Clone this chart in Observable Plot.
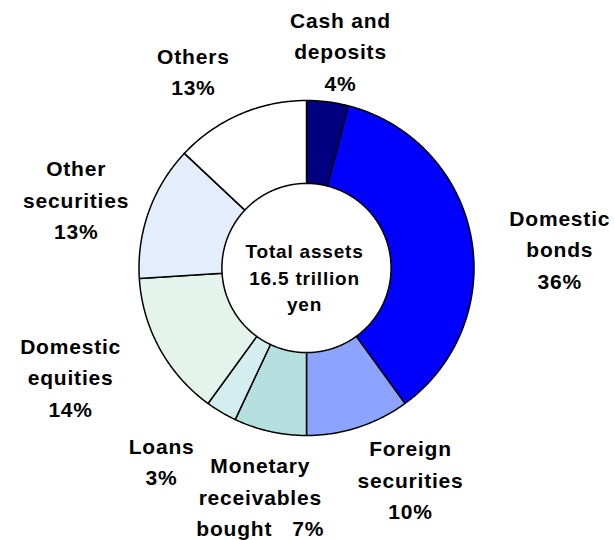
<!DOCTYPE html>
<html>
<head>
<meta charset="utf-8">
<script src="https://cdn.jsdelivr.net/npm/d3@7"></script>
<script src="https://cdn.jsdelivr.net/npm/@observablehq/plot@0.6"></script>
<style>
  body { margin: 0; background: #fff; }
  #chart svg text { letter-spacing: 0.8px; }
</style>
</head>
<body>
<div id="chart"></div>
<script>
// ---- data ----
const categories = ["Cash and deposits", "Domestic bonds", "Foreign securities", "Monetary receivables bought", "Loans", "Domestic equities", "Other securities", "Others"];
const labelNames = ["Cash and\ndeposits", "Domestic\nbonds", "Foreign\nsecurities", "Monetary\nreceivables\nbought", "Loans", "Domestic\nequities", "Other\nsecurities", "Others"];
const shares = [4, 36, 10, 7, 3, 14, 13, 13];
const centerLines = ["Total assets", "16.5 trillion", "yen"];

// ---- styles / layout ----
const colors = ["#000080", "#0000ff", "#8ca4ff", "#b6dfe0", "#d4eef0", "#e4f3ec", "#e3edfc", "#ffffff"];
const percentSep = ["\n", "\n", "\n", "\u00a0\u00a0\u00a0", "\n", "\n", "\n", "\n"];
const innerRatio = 0.505;
const labelRadius = 1.43;
const labelNudge = [[4, 19], [18, 24], [30, -18], [6, -7], [-23, -15], [-26, -8], [-5, 11], [-18, 21]];
const centerNudge = [-2, 8];

const W = 614, H = 540, ml = 138.5, mr = 140.5, mt = 100, mb = 105;
const k = (W - ml - mr) / 2; // pixels per unit radius

const total = d3.sum(shares);
let acc = 0;
const slices = shares.map((v, i) => {
  const a0 = acc / total * 2 * Math.PI;
  acc += v;
  const a1 = acc / total * 2 * Math.PI;
  return {i, a0, a1, mid: (a0 + a1) / 2};
});
const pt = (r, a) => [r * Math.sin(a), -r * Math.cos(a)];
function ring(a0, a1) {
  const n = Math.max(2, Math.ceil((a1 - a0) / (Math.PI / 360)));
  const outer = d3.range(n + 1).map(j => pt(1, a0 + (a1 - a0) * j / n));
  const inner = d3.range(n + 1).map(j => pt(innerRatio, a1 - (a1 - a0) * j / n));
  return [...outer, ...inner, outer[0]];
}
const features = slices.map(s => ({
  type: "Feature",
  properties: {name: categories[s.i], color: colors[s.i]},
  geometry: {type: "Polygon", coordinates: [ring(s.a0, s.a1)]}
}));
const labelData = slices.map(s => {
  const [x, y] = pt(labelRadius, s.mid);
  return {
    x: x + labelNudge[s.i][0] / k,
    y: y + labelNudge[s.i][1] / k,
    text: `${labelNames[s.i]}${percentSep[s.i]}${shares[s.i]}%`
  };
});
const centerData = [{x: centerNudge[0] / k, y: centerNudge[1] / k, text: centerLines.join("\n")}];

const chart = Plot.plot({
  width: W,
  height: H,
  marginLeft: ml,
  marginRight: mr,
  marginTop: mt,
  marginBottom: mb,
  style: {fontFamily: "Arial, 'Liberation Sans', sans-serif", background: "#fff"},
  projection: {type: "identity", domain: {type: "MultiPoint", coordinates: [[-1, -1], [1, 1]]}, clip: false},
  color: {type: "identity"},
  marks: [
    Plot.geo(features, {fill: d => d.properties.color, stroke: "#000", strokeWidth: 1.5, strokeLinejoin: "round"}),
    Plot.text(labelData, {x: "x", y: "y", text: "text", fontSize: 21, fontWeight: "bold", lineHeight: 1.5, fill: "#000"}),
    Plot.text(centerData, {x: "x", y: "y", text: "text", fontSize: 19, fontWeight: "bold", lineHeight: 1.4, fill: "#000"})
  ]
});
document.getElementById("chart").appendChild(chart);
</script>
</body>
</html>
